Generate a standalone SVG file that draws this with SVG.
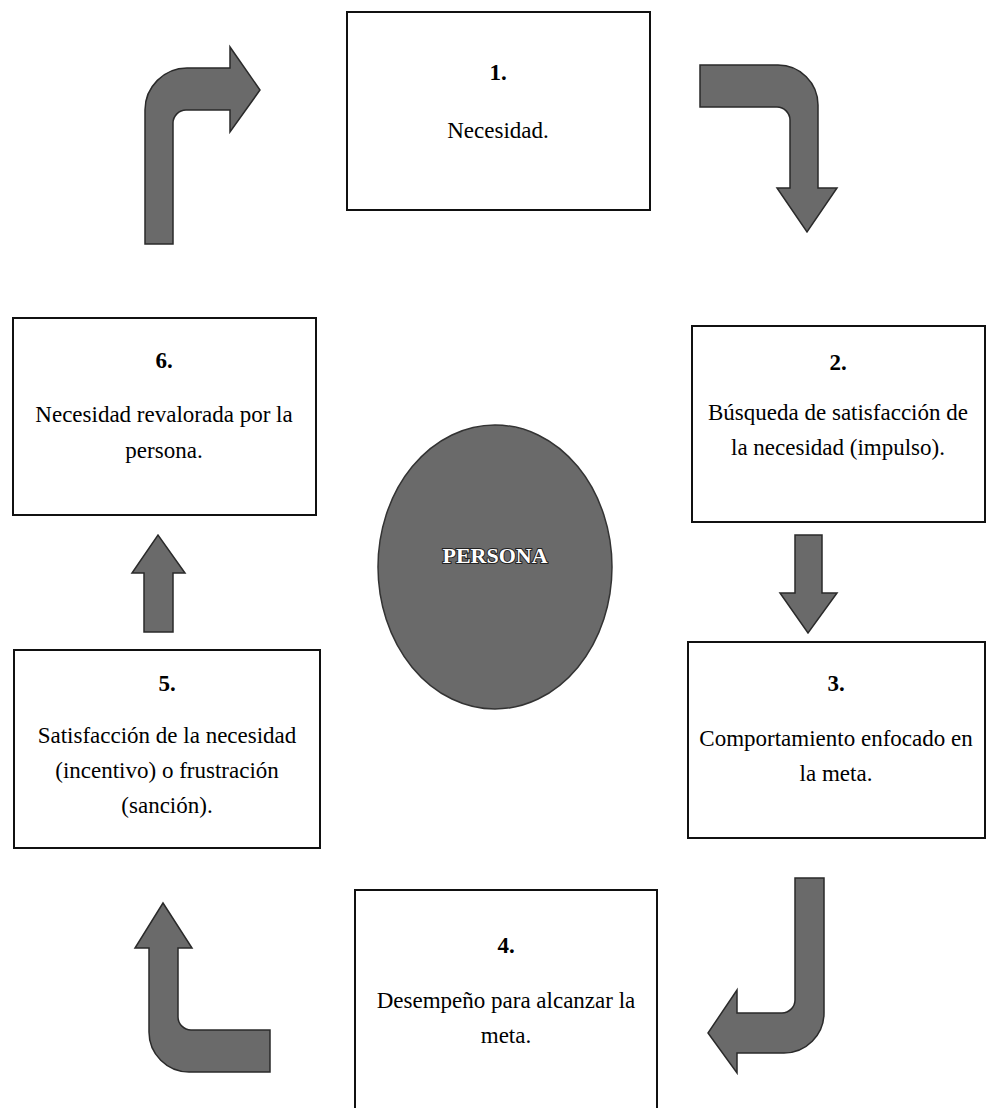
<svg xmlns="http://www.w3.org/2000/svg" width="987" height="1108" viewBox="0 0 987 1108">
<style>
.box{fill:#fff;stroke:#111;stroke-width:2}
.arr{fill:#6a6a6a;stroke:#2a2a2a;stroke-width:1.5;stroke-linejoin:miter}
.t{font-size:23px;fill:#000;text-anchor:middle}
.n{font-weight:bold}
.p{font-size:22px;font-weight:bold;fill:#fff;text-anchor:middle;stroke:#222;stroke-width:2;paint-order:stroke}
</style>
<rect width="987" height="1108" fill="#fff"/>
<g id="connectors">
<path class="arr" d="M145,244 L145,110 C145,87 164,68 187,68 L230,68 L230,47 L260,90 L230,132 L230,110 L186,110 C179,110 173,116 173,123 L173,244 Z"/>
<path class="arr" d="M700,65 L778,65 C800,65 818,83 818,105 L818,188 L837,188 L807,232 L777,188 L790,188 L790,120 C790,113 784,107 777,107 L700,107 Z"/>
<path class="arr" d="M795,535 L822,535 L822,593 L837,593 L808,633 L780,593 L795,593 Z"/>
<path class="arr" d="M795,878 L824,878 L824,1013 C824,1035 806,1053 784,1053 L737,1053 L737,1073 L708,1033 L737,990 L737,1013 L782,1013 C789,1013 795,1007 795,1000 Z"/>
<path class="arr" d="M270,1030 L191,1030 C184,1030 178,1024 178,1017 L178,948 L192,948 L163,903 L135,948 L149,948 L149,1032 C149,1054 167,1072 189,1072 L270,1072 Z"/>
<path class="arr" d="M144,632 L144,573 L132,573 L158,535 L185,573 L173,573 L173,632 Z"/>
</g>
<g font-family="'Liberation Serif', 'DejaVu Serif', serif">
<g id="node1">
<rect class="box" x="347" y="12" width="303" height="198"/>
<text class="t n" x="498" y="80">1.</text>
<text class="t" x="498" y="138">Necesidad.</text>
</g>
<g id="node2">
<rect class="box" x="692" y="326" width="293" height="196"/>
<text class="t n" x="838" y="370">2.</text>
<text class="t" x="838" y="420">Búsqueda de satisfacción de</text>
<text class="t" x="838" y="455">la necesidad (impulso).</text>
</g>
<g id="node3">
<rect class="box" x="688" y="642" width="297" height="196"/>
<text class="t n" x="836" y="691">3.</text>
<text class="t" x="836" y="746">Comportamiento enfocado en</text>
<text class="t" x="836" y="781">la meta.</text>
</g>
<g id="node4">
<rect class="box" x="355" y="890" width="302" height="230"/>
<text class="t n" x="506" y="953">4.</text>
<text class="t" x="506" y="1008">Desempeño para alcanzar la</text>
<text class="t" x="506" y="1043">meta.</text>
</g>
<g id="node5">
<rect class="box" x="14" y="650" width="306" height="198"/>
<text class="t n" x="167" y="691">5.</text>
<text class="t" x="167" y="743">Satisfacción de la necesidad</text>
<text class="t" x="167" y="778">(incentivo) o frustración</text>
<text class="t" x="167" y="813">(sanción).</text>
</g>
<g id="node6">
<rect class="box" x="13" y="318" width="303" height="197"/>
<text class="t n" x="164" y="368">6.</text>
<text class="t" x="164" y="422">Necesidad revalorada por la</text>
<text class="t" x="164" y="458">persona.</text>
</g>
<g id="persona">
<ellipse cx="495" cy="567" rx="117" ry="142" fill="#6a6a6a" stroke="#333" stroke-width="1.5"/>
<text class="p" x="495" y="563">PERSONA</text>
</g>
</g>
</svg>
